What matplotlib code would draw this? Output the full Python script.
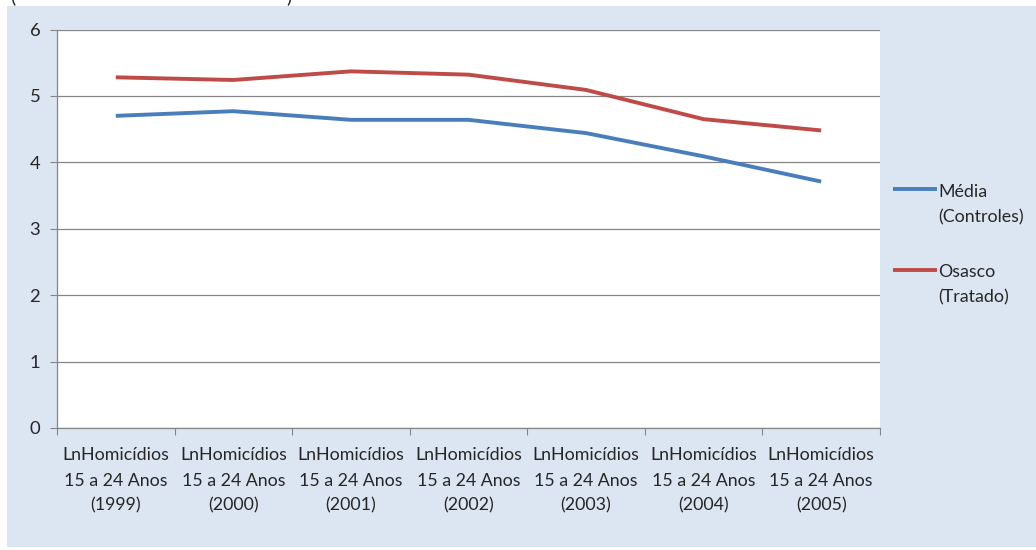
import matplotlib
matplotlib.use("Agg")
import matplotlib.pyplot as plt
from matplotlib.patches import Rectangle
from matplotlib.legend_handler import HandlerLine2D

plt.rcParams["font.family"] = ["Lato", "DejaVu Sans"]

# Data
years = ["1999", "2000", "2001", "2002", "2003", "2004", "2005"]
media_controles = [4.70, 4.77, 4.64, 4.64, 4.44, 4.09, 3.71]
osasco_tratado = [5.28, 5.24, 5.37, 5.32, 5.09, 4.65, 4.48]
yticks = [0, 1, 2, 3, 4, 5, 6]

labels = [f"LnHomicídios\n15 a 24 Anos\n({y})" for y in years]

BLUE = "#4a7ebb"
RED = "#be4b48"
PANEL = "#dce6f2"
GRID = "#868686"
TXT = "#262626"


class TopHandler(HandlerLine2D):
    # put the legend line level with the first text line
    def create_artists(self, legend, orig_handle, xdescent, ydescent,
                       width, height, fontsize, trans):
        arts = super().create_artists(legend, orig_handle, xdescent, ydescent,
                                      width, height, fontsize, trans)
        for a in arts:
            y = a.get_ydata()
            a.set_ydata([v + height * 1.25 for v in y])
        return arts


fig = plt.figure(figsize=(10.36, 5.5), dpi=100)
fig.patch.set_facecolor("white")
fig.patches.append(Rectangle((7 / 1036, 3 / 550), 1 - 7 / 1036, 541 / 550,
                             transform=fig.transFigure, facecolor=PANEL,
                             edgecolor="none", zorder=-10))

# cut-off title remnants at the very top
fig.text(10 / 1036, 1 - 2 / 550, "(", fontsize=14, color=TXT, va="baseline")
fig.text(286 / 1036, 1 - 2 / 550, ")", fontsize=14, color=TXT, va="baseline")

ax = fig.add_axes([57 / 1036, 122 / 550, 823 / 1036, 398.5 / 550])
ax.set_facecolor("white")

x = list(range(len(years)))
ax.plot(x, media_controles, color=BLUE, lw=2.8, solid_capstyle="butt",
        label="Média\n(Controles)")
ax.plot(x, osasco_tratado, color=RED, lw=2.8, solid_capstyle="butt",
        label="Osasco\n(Tratado)")

ax.set_xlim(-0.5, len(years) - 0.5)
ax.set_ylim(0, 6)
ax.set_yticks(yticks)
ax.yaxis.grid(True, color=GRID, lw=0.9)
ax.set_axisbelow(True)

ax.set_xticks([i - 0.5 for i in range(len(years) + 1)])
ax.set_xticklabels([])
ax.set_xticks(x, minor=True)
ax.set_xticklabels(labels, minor=True, fontsize=12.8, color=TXT, linespacing=1.7)
ax.tick_params(axis="x", which="minor", length=0, pad=14)
ax.tick_params(axis="x", which="major", length=5, color=GRID, direction="out")
ax.tick_params(axis="y", length=5, color=GRID, labelsize=13.3, labelcolor=TXT, pad=7)

for s in ["top", "right"]:
    ax.spines[s].set_visible(False)
for s in ["left", "bottom"]:
    ax.spines[s].set_color(GRID)
    ax.spines[s].set_linewidth(0.9)

leg = ax.legend(loc="upper left", bbox_to_anchor=(893 / 1036, 366 / 550),
                bbox_transform=fig.transFigure, frameon=False, fontsize=12.8,
                handlelength=2.5, handletextpad=0.05, labelspacing=2.2,
                borderpad=0, borderaxespad=0,
                handler_map={plt.Line2D: TopHandler()})
for t in leg.get_texts():
    t.set_color(TXT)
    t.set_linespacing(1.7)

fig.savefig("out.png", dpi=100)
